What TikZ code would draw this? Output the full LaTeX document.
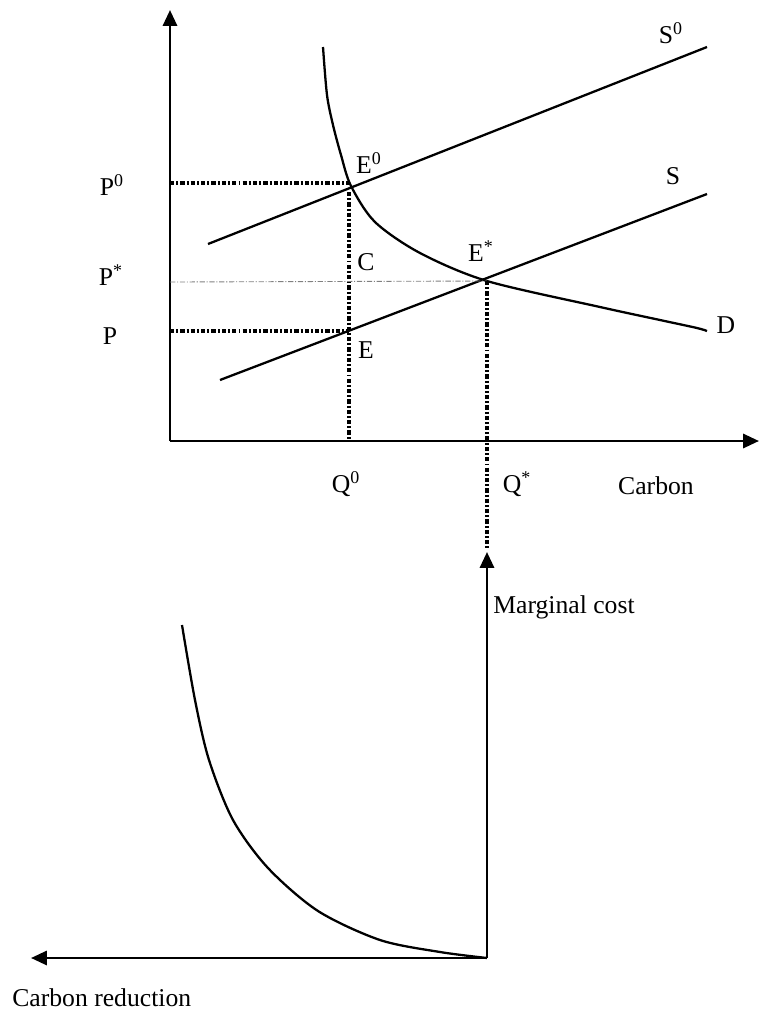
\documentclass[tikz,border=0pt]{standalone}
\usepackage{fontspec}
\setmainfont{Liberation Serif}
\usetikzlibrary{arrows.meta, positioning}

\begin{document}
\begin{tikzpicture}[x=0.02cm, y=-0.02cm, every node/.style={font=\fontsize{14.6}{17}\selectfont, inner sep=0pt}]
        \tikzstyle{axis} = [line width=1.5pt, -{Triangle[length=9pt, width=8pt]}]
        \tikzstyle{curve} = [line width=1.3pt]
        \tikzstyle{guide} = [line width=1.9pt, dash pattern=on 2.4pt off 1.2pt on 1.1pt off 1.2pt]
        \tikzstyle{thinguide} = [line width=0.5pt, gray, dash pattern=on 3pt off 1pt on 0.6pt off 1pt]

        \useasboundingbox (0,0) rectangle (759,1012);

        \coordinate (o) at (170,441);
        \coordinate (ytop) at (170,10);
        \coordinate (xend) at (759,441);
        \coordinate (e0) at (349,186);
        \coordinate (e) at (349,331);
        \coordinate (estar) at (487,281);
        \coordinate (q0) at (349,441);
        \coordinate (qlow) at (487,548);
        \coordinate (mc) at (487,958);
        \coordinate (mctop) at (487,552);
        \coordinate (redend) at (31,958);

        \draw [axis] (o) -- (ytop);
        \draw [axis] (o) -- (xend);

        \draw [curve] (208,244) -- (707,47);
        \draw [curve] (220,380) -- (707,194);
        \draw [curve] plot[smooth, tension=0.5] coordinates {(323,47) (327,95) (333,125) (341,155) (351,186) (375,222) (420,253) (487,281) (600,307) (660,320) (697,328) (707,331)};

        \draw [guide] (170,183) -- (349,183);
        \draw [guide] (349,192) -- (q0);
        \draw [guide] (170,331) -- (e);
        \draw [thinguide] (170,282) -- (estar);
        \draw [guide] (estar) -- (qlow);

        \node (p0) at (112,185) {P\textsuperscript{0}};
        \node (pstar) at (111,275) {P\textsuperscript{*}};
        \node (p) at (110,336) {P};
        \node (e0lbl) at (369,163) {E\textsuperscript{0}};
        \node (clbl) at (366,262) {C};
        \node (elbl) at (366,350) {E};
        \node (estarlbl) at (481,251) {E\textsuperscript{*}};
        \node (s0lbl) at (671,33) {S\textsuperscript{0}};
        \node (slbl) at (673,176) {S};
        \node (dlbl) at (726,325) {D};
        \node (q0lbl) at (346,484) {Q\textsuperscript{0}};
        \node (qstarlbl) at (517,484) {Q\textsuperscript{*}};
        \node (carbon) at (656,486) {Carbon};

        \draw [axis] (mc) -- (mctop);
        \draw [axis] (mc) -- (redend);
        \node (mclbl) [anchor=west] at (493,607) {Marginal cost};
        \node (redlbl) [anchor=west] at (12,998) {Carbon reduction};

        \draw [curve] plot[smooth, tension=0.5] coordinates {(182,625) (195,700) (209,760) (233,820) (268,868) (318,911) (380,940) (440,952) (487,958)};
    \end{tikzpicture}
\end{document}
